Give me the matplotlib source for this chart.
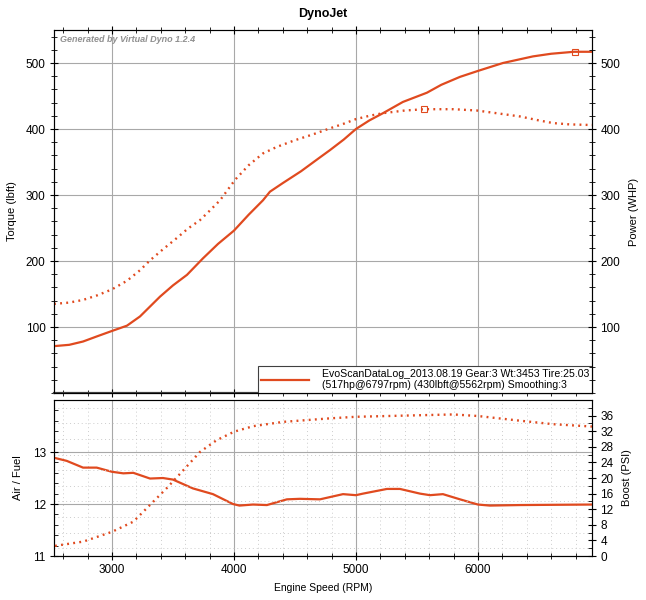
import matplotlib
matplotlib.use("Agg")
import matplotlib.pyplot as plt
from matplotlib.ticker import MultipleLocator
from matplotlib.lines import Line2D

# --- data ---
power_rpm = [2525, 2650, 2763, 2880, 3000, 3123, 3230, 3394, 3500, 3615, 3746, 3870,
             4000, 4120, 4238, 4295, 4400, 4550, 4705, 4787, 4900, 5000, 5110, 5222,
             5385, 5582, 5700, 5853, 6000, 6205, 6451, 6600, 6787, 6935]
power_hp = [71, 73, 78, 86, 94, 102, 116, 146, 163, 179, 204, 226,
            246, 270, 292, 305, 318, 336, 357, 368, 384, 400, 413, 424,
            441, 455, 467, 479, 488, 500, 510, 514, 517, 517]

torque_rpm = [2525, 2650, 2763, 2880, 3000, 3123, 3230, 3312, 3420, 3533, 3622, 3722,
              3800, 3886, 4009, 4120, 4238, 4353, 4500, 4650, 4787, 4900, 5000, 5110,
              5222, 5400, 5562, 5800, 5992, 6150, 6345, 6500, 6615, 6750, 6935]
torque_lbft = [135, 137, 141, 148, 157, 170, 186, 201, 218, 235, 249, 262,
               276, 292, 323, 345, 363, 373, 383, 392, 401, 408, 415, 420,
               424, 428, 430, 430, 428, 424, 419, 413, 409, 407, 406]

afr_rpm = [2525, 2629, 2763, 2875, 3000, 3093, 3175, 3312, 3418, 3500, 3664, 3828,
           3992, 4045, 4156, 4270, 4434, 4541, 4705, 4894, 5000, 5058, 5254, 5361,
           5525, 5607, 5713, 5853, 6000, 6098, 6344, 6935]
afr = [12.89, 12.83, 12.70, 12.70, 12.62, 12.59, 12.60, 12.49, 12.50, 12.47, 12.30, 12.19,
       12.00, 11.97, 11.99, 11.98, 12.09, 12.10, 12.09, 12.19, 12.17, 12.20, 12.29, 12.29,
       12.20, 12.17, 12.19, 12.09, 11.99, 11.97, 11.98, 11.99]

boost_rpm = [2533, 2765, 3000, 3175, 3312, 3449, 3585, 3722, 3858, 4003, 4159, 4404,
             4787, 5000, 5525, 5798, 6000, 6344, 6617, 6935]
boost_psi = [2.6, 3.7, 6.2, 8.8, 13.1, 17.4, 22.0, 26.7, 29.7, 31.9, 33.3, 34.4,
             35.3, 35.7, 36.1, 36.3, 35.9, 34.7, 33.8, 33.2]

peak_hp = (6797, 517)
peak_tq = (5562, 430)

legend_text = ("EvoScanDataLog_2013.08.19 Gear:3 Wt:3453 Tire:25.03\n"
               "(517hp@6797rpm) (430lbft@5562rpm) Smoothing:3")

RED = "#e04a1f"
GRID = "#a8a8a8"
DOTS = (0, (0.8, 1.8))
plt.rcParams["font.family"] = ["Liberation Sans", "DejaVu Sans"]

fig = plt.figure(figsize=(6.46, 6.0), dpi=100)
ax = fig.add_axes([0.0836, 0.345, 0.8328, 0.605])
ax_r = ax.twinx()
bx = fig.add_axes([0.0836, 0.0733, 0.8328, 0.26], sharex=ax)
bx_r = bx.twinx()

xlim = (2525, 6935)

# top: power & torque
ax.plot(power_rpm, power_hp, color=RED, lw=1.6, zorder=3)
ax.plot(torque_rpm, torque_lbft, color=RED, lw=1.7, ls=DOTS, zorder=3)
ax.plot(*peak_hp, marker="s", ms=5, mfc="none", mec=RED, mew=0.8, zorder=4)
ax.plot(*peak_tq, marker="s", ms=5, mfc="none", mec=RED, mew=0.8, zorder=4)
ax.set_xlim(*xlim)
ax.set_ylim(0, 550)
ax_r.set_ylim(0, 550)
ax.set_yticks([100, 200, 300, 400, 500])
ax_r.set_yticks([100, 200, 300, 400, 500])
ax.yaxis.set_minor_locator(MultipleLocator(20))
ax_r.yaxis.set_minor_locator(MultipleLocator(20))
ax.set_xticks([3000, 4000, 5000, 6000])
ax.xaxis.set_minor_locator(MultipleLocator(200))
ax.grid(True, which="major", color=GRID, lw=0.8)
ax.tick_params(axis="x", labelbottom=False, top=True, direction="inout", length=6)
ax.tick_params(axis="x", which="minor", top=True, direction="inout", length=4)
ax.tick_params(axis="y", direction="inout", length=6, labelsize=8.5, pad=3)
ax.tick_params(axis="y", which="minor", direction="inout", length=4)
ax_r.tick_params(axis="y", direction="inout", length=6, labelsize=8.5, pad=3)
ax_r.tick_params(axis="y", which="minor", direction="inout", length=4)
ax.set_ylabel("Torque (lbft)", fontsize=8)
ax.yaxis.set_label_coords(-0.068, 0.5)
ax_r.set_ylabel("Power (WHP)", fontsize=8)
ax_r.yaxis.set_label_coords(1.068, 0.5)
ax.set_title("DynoJet", fontsize=9, fontweight="bold", pad=9)
ax.text(0.012, 0.985, "Generated by Virtual Dyno 1.2.4", transform=ax.transAxes,
        fontsize=6.5, style="italic", fontweight="bold", color="#909090",
        ha="left", va="top")
handle = Line2D([], [], color=RED, lw=1.6)
leg = ax.legend([handle], [legend_text], loc="lower right", borderaxespad=0,
                fontsize=7.6, fancybox=False, framealpha=1, edgecolor="#404040",
                handlelength=4.6, handletextpad=1.2, borderpad=0.25,
                labelspacing=0.1)
leg.get_frame().set_linewidth(0.8)
for s in ax.spines.values():
    s.set_color("#404040")
ax.spines["bottom"].set_linewidth(1.6)

# bottom: A/F & boost
bx.plot(afr_rpm, afr, color=RED, lw=1.6, zorder=3)
bx_r.plot(boost_rpm, boost_psi, color=RED, lw=1.7, ls=DOTS, zorder=3)
bx.set_xlim(*xlim)
bx.set_ylim(11, 14)
bx_r.set_ylim(0, 40)
bx.set_yticks([11, 12, 13])
bx_r.set_yticks(range(0, 37, 4))
bx_r.yaxis.set_minor_locator(MultipleLocator(2))
bx.yaxis.set_minor_locator(MultipleLocator(0.2))
bx.set_xticks([3000, 4000, 5000, 6000])
bx.xaxis.set_minor_locator(MultipleLocator(200))
bx.grid(True, which="major", color=GRID, lw=0.8)
bx.grid(True, which="minor", axis="x", color="#cccccc", lw=0.7, ls=(0, (1, 3)))
bx_r.grid(True, which="minor", axis="y", color="#cccccc", lw=0.7, ls=(0, (1, 3)))
bx_r.set_axisbelow(True)
bx.tick_params(axis="x", direction="inout", length=6, labelsize=8.5, pad=3)
bx.tick_params(axis="x", which="minor", direction="inout", length=4)
bx.tick_params(axis="y", direction="inout", length=6, labelsize=8.5, pad=3)
bx.tick_params(axis="y", which="minor", direction="in", length=3)
bx_r.tick_params(axis="y", direction="inout", length=6, labelsize=8.5, pad=3)
bx_r.tick_params(axis="y", which="minor", direction="in", length=3)
bx.set_ylabel("Air / Fuel", fontsize=8)
bx.yaxis.set_label_coords(-0.058, 0.5)
bx_r.set_ylabel("Boost (PSI)", fontsize=8)
bx_r.yaxis.set_label_coords(1.055, 0.5)
bx.set_xlabel("Engine Speed (RPM)", fontsize=7.5, labelpad=5)
for s in bx.spines.values():
    s.set_color("#404040")

fig.savefig("out.png", dpi=100)
